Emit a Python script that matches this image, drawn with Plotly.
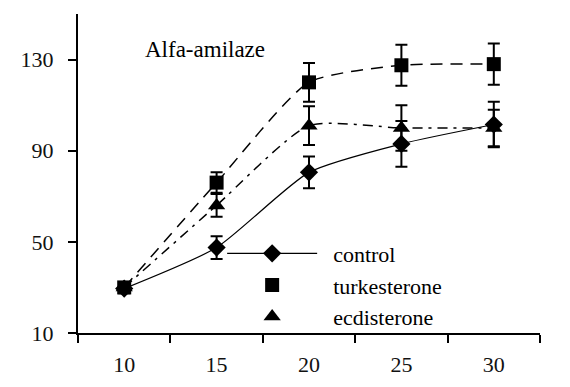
import plotly.graph_objects as go

days = [10, 15, 20, 25, 30]
control = [29.5, 47.5, 80.5, 93, 101.5]
control_err = [2, 5, 7, 10, 10]
turkesterone = [30, 76, 120, 127.5, 128]
turkesterone_err = [2, 4.5, 8.5, 9, 9]
ecdisterone = [30, 66, 101, 100, 100]
ecdisterone_err = [2, 5, 8.5, 10, 8]
y_ticks = [10, 50, 90, 130]

SERIF = "Liberation Serif"
NB = "\u00a0\u00a0"
fig = go.Figure()

def err(e):
    return dict(type="data", array=e, visible=True, color="black", thickness=2, width=6)

fig.add_trace(go.Scatter(x=days, y=turkesterone, mode="lines+markers", name="turkesterone",
                         line=dict(color="black", width=1.5, dash="12px,8px", shape="spline", smoothing=0.6),
                         marker=dict(symbol="square", size=14, color="black"),
                         error_y=err(turkesterone_err), showlegend=False))
fig.add_trace(go.Scatter(x=days, y=ecdisterone, mode="lines+markers", name="ecdisterone",
                         line=dict(color="black", width=1.5, dash="10px,6px,3px,6px", shape="spline", smoothing=0.6),
                         marker=dict(symbol="triangle-up", size=15, color="black"),
                         error_y=err(ecdisterone_err), showlegend=False))
fig.add_trace(go.Scatter(x=days, y=control, mode="lines+markers", name=NB + "control",
                         line=dict(color="black", width=1.2, shape="spline", smoothing=0.6),
                         marker=dict(symbol="diamond", size=14, color="black"),
                         error_y=err(control_err), legendrank=1))
fig.add_trace(go.Scatter(x=[None], y=[None], mode="markers", name=NB + "turkesterone",
                         marker=dict(symbol="square", size=14, color="black"), legendrank=2))
fig.add_trace(go.Scatter(x=[None], y=[None], mode="markers", name=NB + "ecdisterone",
                         marker=dict(symbol="triangle-up", size=15, color="black"), legendrank=3))

fig.add_annotation(text="Alfa-amilaze", xref="paper", yref="paper", x=0.141, y=0.89,
                   xanchor="left", yanchor="middle", showarrow=False,
                   font=dict(family=SERIF, size=23, color="black"))

fig.update_layout(
    width=562, height=379,
    margin=dict(l=70, r=30, t=6, b=54),
    paper_bgcolor="white", plot_bgcolor="white",
    font=dict(family=SERIF, size=22, color="black"),
    legend=dict(x=0.312, y=0.315, xanchor="left", yanchor="top", bgcolor="rgba(0,0,0,0)",
                itemwidth=90, font=dict(family=SERIF, size=22, color="black")),
    xaxis=dict(range=[7.5, 32.5], tickvals=days, ticktext=[str(d) for d in days], ticks="",
               showline=True, linecolor="black", linewidth=2, showgrid=False, zeroline=False,
               automargin=False, ticklabelstandoff=11,
               tickfont=dict(family=SERIF, size=22, color="#111111"),
               minor=dict(tick0=7.5, dtick=5, ticks="outside", ticklen=8, tickwidth=2,
                          tickcolor="black", showgrid=False)),
    yaxis=dict(range=[10, 150], tickvals=y_ticks, ticks="outside", ticklen=8, tickwidth=2,
               tickcolor="black", showline=True, linecolor="black", linewidth=2,
               showgrid=False, zeroline=False, ticklabelstandoff=10, automargin=False,
               tickfont=dict(family=SERIF, size=22, color="#111111")),
)

fig.write_html("out.html")
